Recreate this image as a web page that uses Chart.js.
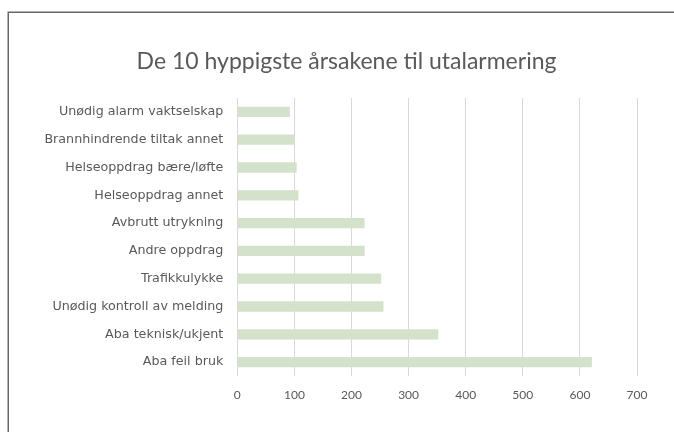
<!DOCTYPE html>
<html>
<head>
<meta charset="utf-8">
<script src="https://cdn.jsdelivr.net/npm/chart.js@4"></script>
<style>
html,body{margin:0;padding:0;background:#fff;overflow:hidden;}
#wrap{position:relative;width:674px;height:432px;}
</style>
</head>
<body>
<div id="wrap"><canvas id="c" width="674" height="432"></canvas></div>
<script>
const titleText = "De 10 hyppigste årsakene til utalarmering";
const categories = ["Unødig alarm vaktselskap","Brannhindrende tiltak annet","Helseoppdrag bære/løfte","Helseoppdrag annet","Avbrutt utrykning","Andre oppdrag","Trafikkulykke","Unødig kontroll av melding","Aba teknisk/ukjent","Aba feil bruk"];
const values = [92,100,104,107,223,223,252,256,352,621];
const xMin = 0, xMax = 700, xStep = 100;

const framePlugin = {
  id: 'frame',
  beforeDraw(chart){
    const ctx = chart.ctx;
    ctx.save();
    ctx.fillStyle = '#ffffff';
    ctx.fillRect(0,0,chart.width,chart.height);
    ctx.strokeStyle = '#666666';
    ctx.lineWidth = 1.5;
    ctx.strokeRect(8.25, 12.25, 720, 500);
    ctx.fillStyle = '#595959';
    ctx.font = '400 23px Lato';
    ctx.textAlign = 'center';
    ctx.textBaseline = 'middle';
    ctx.fillText(titleText, 346.5, 62);
    ctx.restore();
  }
};

new Chart(document.getElementById('c'), {
  type: 'bar',
  data: {
    labels: categories,
    datasets: [{
      data: values,
      backgroundColor: '#d4e2cb',
      borderWidth: 0,
      barPercentage: 0.37,
      categoryPercentage: 1.0
    }]
  },
  options: {
    indexAxis: 'y',
    responsive: false,
    animation: false,
    layout: { padding: { left: 18, right: 37, top: 98, bottom: 0 } },
    plugins: {
      legend: { display: false },
      tooltip: { enabled: false },
      title: { display: false }
    },
    scales: {
      x: {
        min: xMin, max: xMax,
        ticks: { stepSize: xStep, color: '#595959', font: { family: 'Lato', size: 12 }, padding: 12 },
        grid: { color: '#d9d9d9', lineWidth: 1, drawTicks: false },
        border: { display: false },
        afterFit(scale){ scale.height = 56; }
      },
      y: {
        ticks: { color: '#595959', font: { family: 'DejaVu Sans', size: 12.7 }, padding: 14, autoSkip: false },
        grid: { display: false, drawTicks: false },
        border: { display: false },
        afterFit(scale){ scale.width = 219.3; }
      }
    }
  },
  plugins: [framePlugin]
});
</script>
</body>
</html>
